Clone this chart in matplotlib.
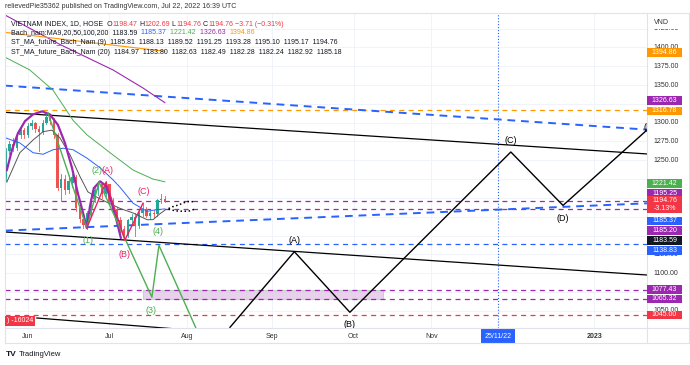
import matplotlib
matplotlib.use('Agg')
import matplotlib.pyplot as plt
import matplotlib.transforms as mtrans
from matplotlib.patches import Rectangle
import numpy as np

plt.rcParams['font.family'] = ['Liberation Sans', 'DejaVu Sans']

W, H = 690, 365
def fx(x): return x / W
def fy(y): return 1 - y / H

# ---- data (x = trading-bar index, 0 = 1 Jun 2022) ----
bars = np.arange(-6, 38)
opens  = [1228,1262,1272,1266,1284,1290,1283,1296,1299,1291,1288,1300,1308,1302,1283,1213,1225,1210,1220,1228,1187,1172,
          1164,1180,1198,1210,1218,1205,1218,1195,1185,1170,1158,1150,1170,1175,1162,1180,1185,1176,1180,1178,1197,1198.47]
highs  = [1266,1276,1279,1287,1294,1293,1299,1303,1301,1296,1303,1313,1311,1306,1286,1232,1230,1226,1232,1230,1192,1178,
          1182,1200,1214,1222,1220,1222,1219,1200,1188,1174,1162,1172,1178,1180,1182,1193,1188,1183,1184,1199,1205,1202.69]
lows   = [1222,1258,1262,1264,1280,1280,1281,1292,1288,1262,1285,1298,1298,1280,1210,1196,1205,1206,1214,1182,1168,1160,
          1158,1176,1194,1204,1200,1203,1192,1180,1166,1152,1144,1148,1164,1150,1160,1176,1174,1172,1174,1176,1193,1194.76]
closes = [1262,1272,1266,1284,1290,1283,1296,1299,1291,1288,1300,1308,1302,1283,1213,1225,1210,1222,1228,1187,1172,1164,
          1180,1198,1210,1218,1205,1218,1195,1185,1170,1158,1150,1170,1175,1162,1180,1185,1176,1180,1178,1197,1198.5,1194.76]

ma9_x  = [-5.7,-2.2,1.4,4.1,6.5,8.6,11.4,14.1,16.2,18.6,21.4,24.9,28.4,32.2,33.8,35.7,37]
ma9_y  = [1221,1260,1277,1288,1290,1280,1257,1228,1208,1201,1194,1186,1180,1171,1171,1179,1183.59]
ma20_x = [-6.2,-2.2,1.4,4.1,6.8,9.5,12.2,15.9,19.5,23,24.9,28.4,32.2,34.3,37]
ma20_y = [1280,1273,1260,1258,1264,1266,1264,1253,1240,1224,1214,1193,1182,1184,1185.37]
ma50_x = [-6.2,0.5,6.8,12.2,15.9,22.2,28.4,33.8,37]
ma50_y = [1387,1370,1343,1303,1284,1260,1237,1225,1221.42]
ma100_x = [-6.2,8.6,23,31.1,37]
ma100_y = [1443,1404,1370,1346,1326.63]
ma200_x = [-6.2,16,37]
ma200_y = [1420,1407,1394.86]

fut_x = np.arange(38, 46)
fut9  = [1185.81,1188.13,1189.52,1191.25,1193.28,1195.10,1195.17,1194.76]
fut20 = [1184.97,1183.80,1182.63,1182.49,1182.28,1182.24,1182.92,1185.18]

levels = [(1316.78,'#ff9800'),(1195.25,'#9c27b0'),(1185.20,'#9c27b0'),(1138.83,'#2962ff'),
          (1077.43,'#9c27b0'),(1065.32,'#9c27b0'),(1045.00,'#f23645')]

arc_x = [-5.7,-4.3,-2.7,-0.8,1.4,3.8,5.9,8.1,10,11.9,13.5,14.9,15.9,16.8,17.8,19.5,21.1,22.4,23.8,25.1]
arc_y = [1237,1264,1286,1302,1311,1315,1311,1297,1273,1240,1206,1180,1160,1190,1213,1222,1216,1197,1173,1147]

wave_x = [5.4,15.9,19.2,33.5,35.4,45.4]
wave_y = [1313,1160,1221,1068,1137,1027]
abc_x = [15.9,21.1,26.2,31.1]
abc_y = [1160,1221,1144,1193]
zz_x = [54.6,72,87,130.5,144.6,172]
zz_y = [1028,1128.5,1048,1261,1190,1311]

months = ['Jun','Jul','Aug','Sep','Oct','Nov','2023']
month_bars = [0,22,43,66,88,109,153]

fig = plt.figure(figsize=(6.9, 3.65), dpi=100)
ax = fig.add_axes([fx(5), fy(328), (647-5)/W, (328-13)/H])
ax.set_xlim(-6.2, 167.3)
ax.set_ylim(1027.1, 1445.7)
ax.set_xticks([]); ax.set_yticks([])
for s in ax.spines.values():
    s.set_visible(False)

# grid
for p in range(1050, 1450, 25):
    ax.axhline(p, color='#f0f3fa', lw=0.7, zorder=0)
for b in month_bars:
    ax.axvline(b, color='#f0f3fa', lw=0.7, zorder=0)

# horizontal levels
for v, c in levels:
    ax.axhline(v, color=c, lw=0.9, dashes=(4, 3.5), zorder=2)

ax.add_patch(Rectangle((31.1, 1065.32), 64.8, 12.11, facecolor='#e1bee7', alpha=0.7,
                       edgecolor='#a5d6a7', lw=0.8, zorder=1))

# trend lines
ax.plot([-6.2, 167.3], [1349.2, 1290.7], color='#2962ff', lw=1.4, dashes=(4, 3), zorder=3)
ax.plot([-6.2, 167.3], [1156.5, 1192.8], color='#2962ff', lw=1.4, dashes=(4, 3), zorder=3)
ax.plot([-6.2, 167.3], [1313.7, 1258.4], color='black', lw=0.9, zorder=3)
ax.plot([-6.2, 167.3], [1154.7, 1097.5], color='black', lw=0.9, zorder=3)
ax.plot([2.4, 50], [1040.4, 1022], color='black', lw=0.9, zorder=3)
ax.axvline(127, color='#2962ff', lw=0.8, ls=':', zorder=2)

# candles
for b, o, h, l, c in zip(bars, opens, highs, lows, closes):
    col = '#26a69a' if c >= o else '#ef5350'
    ax.plot([b, b], [l, h], color=col, lw=0.6, zorder=4)
    ax.add_patch(Rectangle((b - 0.32, min(o, c)), 0.64, max(abs(c - o), 0.6), color=col, lw=0, zorder=4))

# moving averages
ax.plot(ma9_x, ma9_y, color='#555555', lw=0.7, zorder=5)
ax.plot(ma20_x, ma20_y, color='#2962ff', lw=0.7, zorder=5)
ax.plot(ma50_x, ma50_y, color='#4caf50', lw=0.7, zorder=5)
ax.plot(ma100_x, ma100_y, color='#9c27b0', lw=0.8, zorder=5)
ax.plot(ma200_x, ma200_y, color='#ff9800', lw=0.8, zorder=5)
ax.plot(fut_x, fut9, color='black', lw=1.1, ls=':', zorder=5)
ax.plot(fut_x, fut20, color='black', lw=1.1, ls=':', zorder=5)

# drawings
ax.plot(arc_x, arc_y, color='#9c27b0', lw=1.6, zorder=6)
ax.plot(wave_x, wave_y, color='#4caf50', lw=1.0, zorder=6)
ax.plot(abc_x, abc_y, color='#e91e63', lw=1.0, zorder=6)
ax.plot(zz_x, zz_y, color='black', lw=1.0, zorder=6)

lab = dict(fontsize=6.5, ha='center', va='center', zorder=7)
for s, x, y in [('(1)',16.2,1144),('(2)',18.6,1237),('(3)',33.2,1051),('(4)',35.1,1155)]:
    ax.text(x, y, s, color='#4caf50', **lab)
for s, x, y in [('(A)',21.6,1237),('(B)',26.2,1125),('(C)',31.4,1209)]:
    ax.text(x, y, s, color='#e91e63', **lab)
for s, x, y in [('(A)',72,1143),('(B)',87,1032),('(C)',130.5,1276),('(D)',144.6,1173),('(E)',167.9,1293)]:
    ax.text(x, y, s, color='black', clip_on=True, **lab)

fig.text(fx(7), fy(321), ') -16024', color='white', fontsize=5, va='center', ha='left',
         bbox=dict(boxstyle='square,pad=0.25', fc='#f23645', ec='none'), zorder=8)

# legend texts
def rich(x, y, parts, size=5.0):
    r = fig.canvas.get_renderer()
    for s, c in parts:
        t = fig.text(fx(x), fy(y), s, color=c, fontsize=size, va='center', ha='left', zorder=9)
        x += t.get_window_extent(r).width

dk, rd = '#131722', '#f23645'
rich(5, 7, [('relievedPie35362 published on TradingView.com, Jul 22, 2022 16:39 UTC', '#333333')])
rich(11, 24, [('VIETNAM INDEX, 1D, HOSE  O', dk), ('1198.47', rd), (' H', dk), ('1202.69', rd), (' L', dk),
              ('1194.76', rd), (' C', dk), ('1194.76', rd), (' \u22123.71 (\u22120.31%)', rd)])
rich(11, 33, [('Bach_nam:MA9,20,50,100,200  1183.59  ', dk), ('1185.37  ', '#2962ff'), ('1221.42  ', '#4caf50'),
              ('1326.63  ', '#9c27b0'), ('1394.86', '#ff9800')])
rich(11, 42, [('ST_MA_future_Bach_Nam (9)  ' + '  '.join('%.2f' % v for v in fut9), dk)])
rich(11, 52, [('ST_MA_future_Bach_Nam (20)  ' + '  '.join('%.2f' % v for v in fut20), dk)])

# frame
fc = '#e0e3eb'
for (x0, y0, x1, y1) in [(5,13,689,13),(5,343,689,343),(5,13,5,343),(689,13,689,343),(647,13,647,343),(5,328,689,328)]:
    fig.add_artist(plt.Line2D([fx(x0), fx(x1)], [fy(y0), fy(y1)], color=fc, lw=0.8))

# price axis: TradingView hides the tick labels under the coloured tags
yblend = mtrans.blended_transform_factory(fig.transFigure, ax.transData)
ticks_full = [1375, 1350, 1300, 1275, 1250, 1100]
ticks_part = [(1425, 28.5, 40), (1400, 40, 48.4), (1125, 255, 262), (1050, 300, 310.7)]
for p in ticks_full:
    ax.text(fx(653), p, '%.2f' % p, transform=yblend, fontsize=5, color='#333333', va='center', ha='left',
            clip_on=False)
for p, y0, y1 in ticks_part:
    t = ax.text(fx(653), p, '%.2f' % p, transform=yblend, fontsize=5, color='#333333', va='center', ha='left')
    t.set_clip_box(mtrans.Bbox.from_extents(647, H - y1, 689, H - y0))
    t.set_clip_on(True)
fig.text(fx(654), fy(22), 'VND', fontsize=5, color='#333333', va='center', ha='left', zorder=9)

tags = [('1394.86','#ff9800',52.7),('1326.63','#9c27b0',100.5),('1316.78','#ff9800',111),
        ('1221.42','#4caf50',183.5),('1195.25','#9c27b0',193),('1194.76\n-3.13%','#f23645',204.7),
        ('1185.37','#2962ff',221),('1185.20','#9c27b0',230.5),('1183.59','#131722',240.5),
        ('1138.83','#2962ff',250.5),('1077.43','#9c27b0',289.7),('1065.32','#9c27b0',299),('1045.00','#f23645',315)]
for s, c, y in tags:
    h = 17 if '\n' in s else 8.6
    fig.add_artist(Rectangle((fx(647), fy(y + h / 2)), 35 / W, h / H, facecolor=c, edgecolor='none', zorder=10))
    fig.text(fx(664.5), fy(y), s, color='white', fontsize=5, ha='center', va='center', zorder=11,
             linespacing=1.1)

# time axis
xblend = mtrans.blended_transform_factory(ax.transData, fig.transFigure)
for m, b in zip(months, month_bars):
    ax.text(b, fy(336), m, transform=xblend, fontsize=5, color='#333333', ha='center', va='center',
            clip_on=False, fontweight='bold' if m == '2023' else 'normal')
ax.text(127, fy(336), '25/11/22', transform=xblend, fontsize=5, color='white', ha='center', va='center',
        clip_on=False, bbox=dict(boxstyle='square,pad=0.5', fc='#2962ff', ec='none'))

# footer
fig.text(fx(6), fy(355), 'TV', fontsize=6, fontweight='bold', color='#131722', va='center')
fig.text(fx(19), fy(355), 'TradingView', fontsize=5.5, color='#131722', va='center')

fig.savefig('out.png', dpi=100)
